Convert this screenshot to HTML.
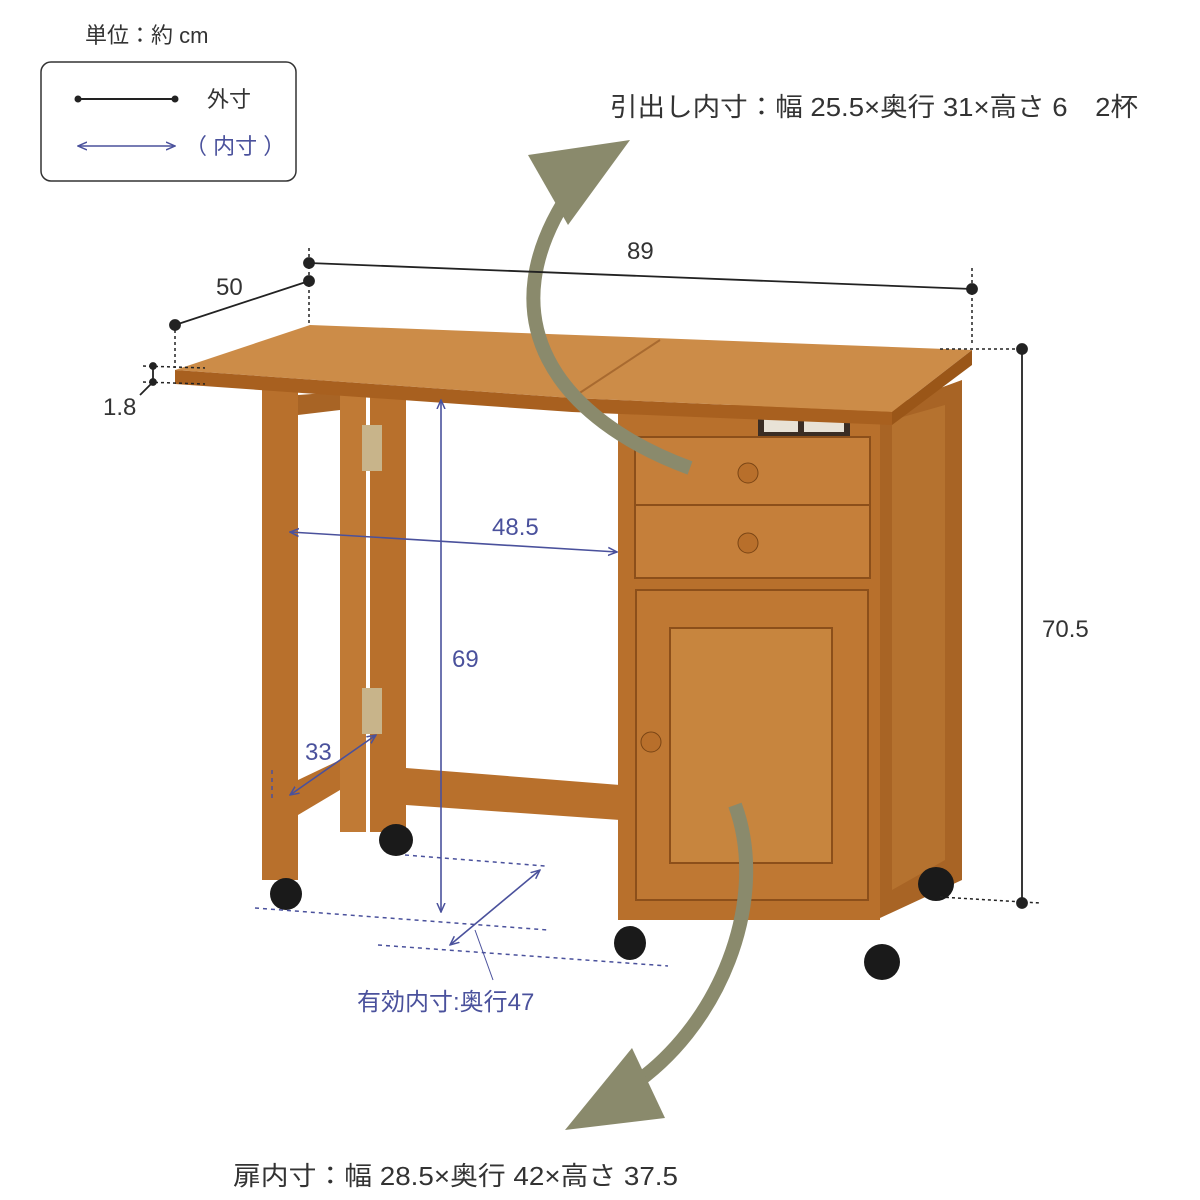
<!DOCTYPE html>
<html><head><meta charset="utf-8"><style>
html,body{margin:0;padding:0;background:#fff;width:1200px;height:1200px;overflow:hidden}
svg{display:block}
text{font-family:"Liberation Sans","Noto Sans CJK JP",sans-serif}
</style></head><body>
<svg width="1200" height="1200" viewBox="0 0 1200 1200" xmlns="http://www.w3.org/2000/svg">
<defs>
<marker id="ba" markerWidth="10" markerHeight="10" refX="9" refY="5" orient="auto-start-reverse" markerUnits="userSpaceOnUse"><path d="M0,1 L9,5 L0,9" fill="none" stroke="#4a519c" stroke-width="1.5"/></marker>
</defs>
<text x="85" y="43" font-size="22" fill="#333">単位：約 cm</text>
<rect x="41" y="62" width="255" height="119" rx="10" fill="#fff" stroke="#333" stroke-width="1.5"/>
<line x1="78" y1="99" x2="175" y2="99" stroke="#222" stroke-width="2"/>
<circle cx="78" cy="99" r="3.5" fill="#222"/><circle cx="175" cy="99" r="3.5" fill="#222"/>
<text x="207" y="107" font-size="22" fill="#333">外寸</text>
<line x1="78" y1="146" x2="175" y2="146" stroke="#4a519c" stroke-width="1.5" marker-start="url(#ba)" marker-end="url(#ba)"/>
<text x="185" y="154" font-size="22" fill="#4a519c">（ 内寸 ）</text>
<text x="610" y="116" font-size="26" fill="#333" textLength="528" lengthAdjust="spacingAndGlyphs">引出し内寸：幅 25.5×奥行 31×高さ 6　2杯</text>
<text x="233" y="1185" font-size="26" fill="#333" textLength="445" lengthAdjust="spacingAndGlyphs">扉内寸：幅 28.5×奥行 42×高さ 37.5</text>

<g>
<rect x="262" y="385" width="36" height="495" fill="#b8702c"/>
<rect x="340" y="392" width="26" height="440" fill="#c07a35"/>
<rect x="370" y="392" width="36" height="440" fill="#b8702c"/>
<polygon points="298,780 340,760 340,790 298,815" fill="#b8702c"/>
<polygon points="298,395 340,392 340,410 298,415" fill="#a86425"/>
<polygon points="406,768 620,785 620,820 406,805" fill="#b8702c"/>
<rect x="362" y="425" width="20" height="46" fill="#c8b48a"/>
<rect x="362" y="688" width="20" height="46" fill="#c8b48a"/>
<rect x="618" y="405" width="262" height="515" fill="#b8702c"/>
<polygon points="880,410 962,380 962,880 880,918" fill="#a86425"/>
<polygon points="892,420 945,405 945,860 892,890" fill="#b5722f"/>
<rect x="635" y="437" width="235" height="70" fill="#c57f3a" stroke="#8c4f1a" stroke-width="2"/>
<rect x="635" y="505" width="235" height="73" fill="#c57f3a" stroke="#8c4f1a" stroke-width="2"/>
<rect x="636" y="590" width="232" height="310" fill="#bf7833" stroke="#8c4f1a" stroke-width="2"/>
<rect x="670" y="628" width="162" height="235" fill="#c7853e" stroke="#8c4f1a" stroke-width="2"/>
<circle cx="748" cy="473" r="10" fill="#b86f2b" stroke="#7a4515"/>
<circle cx="748" cy="543" r="10" fill="#b86f2b" stroke="#7a4515"/>
<circle cx="651" cy="742" r="10" fill="#b86f2b" stroke="#7a4515"/>
<rect x="758" y="414" width="92" height="22" fill="#3a2d24"/>
<rect x="764" y="418" width="34" height="14" fill="#e8e2d6"/><rect x="804" y="418" width="40" height="14" fill="#e8e2d6"/>
<polygon points="175,370 310,325 972,350 892,412 572,398" fill="#cc8c48"/>
<polygon points="175,370 572,398 892,412 892,425 572,412 175,384" fill="#a8601f"/>
<polygon points="892,412 972,350 972,365 892,425" fill="#9a5618"/>
<line x1="572" y1="398" x2="660" y2="340" stroke="#a86a30" stroke-width="2"/>
<g fill="#1a1a1a">
<ellipse cx="286" cy="894" rx="16" ry="16"/>
<ellipse cx="396" cy="840" rx="17" ry="16"/>
<ellipse cx="630" cy="943" rx="16" ry="17"/>
<ellipse cx="882" cy="962" rx="18" ry="18"/>
<ellipse cx="936" cy="884" rx="18" ry="17"/>
</g>
</g>

<g fill="none" stroke="#8a8a6c" stroke-width="14">
<path d="M690,468 C560,420 480,320 575,185"/>
<path d="M735,805 C770,900 720,1030 625,1090"/>
</g>
<polygon points="528,155 630,140 568,225" fill="#8a8a6c"/>
<polygon points="565,1130 665,1118 632,1048" fill="#8a8a6c"/>

<g stroke="#222" stroke-width="1.8" fill="#222">
<line x1="309" y1="263" x2="972" y2="289"/>
<circle cx="309" cy="263" r="5"/><circle cx="972" cy="289" r="5"/>
<line x1="175" y1="325" x2="309" y2="281"/>
<circle cx="175" cy="325" r="5"/><circle cx="309" cy="281" r="5"/>
<line x1="1022" y1="349" x2="1022" y2="903"/>
<circle cx="1022" cy="349" r="5"/><circle cx="1022" cy="903" r="5"/>
<line x1="153" y1="366" x2="153" y2="382"/>
<circle cx="153" cy="366" r="3"/><circle cx="153" cy="382" r="3"/>
<line x1="153" y1="382" x2="140" y2="395"/>
</g>
<g stroke="#222" stroke-width="1.5" stroke-dasharray="3,3" fill="none">
<line x1="309" y1="248" x2="309" y2="325"/>
<line x1="972" y1="268" x2="972" y2="345"/>
<line x1="175" y1="330" x2="175" y2="368"/>
<line x1="940" y1="349" x2="1022" y2="349"/>
<line x1="940" y1="897" x2="1040" y2="903"/>
<line x1="143" y1="366" x2="205" y2="368"/>
<line x1="143" y1="382" x2="205" y2="384"/>
</g>
<text x="627" y="259" font-size="24" fill="#333">89</text>
<text x="216" y="295" font-size="24" fill="#333">50</text>
<text x="1042" y="637" font-size="24" fill="#333">70.5</text>
<text x="103" y="415" font-size="24" fill="#333">1.8</text>

<g stroke="#4a519c" stroke-width="1.6" fill="none">
<line x1="290" y1="532" x2="617" y2="552" marker-start="url(#ba)" marker-end="url(#ba)"/>
<line x1="441" y1="400" x2="441" y2="912" marker-start="url(#ba)" marker-end="url(#ba)"/>
<line x1="290" y1="795" x2="376" y2="735" marker-start="url(#ba)" marker-end="url(#ba)"/>
<line x1="450" y1="945" x2="540" y2="870" marker-start="url(#ba)" marker-end="url(#ba)"/>
<line x1="475" y1="930" x2="493" y2="980" stroke-width="1"/>
</g>
<g stroke="#4a519c" stroke-width="1.5" stroke-dasharray="4,4">
<line x1="255" y1="908" x2="548" y2="930"/>
<line x1="378" y1="945" x2="668" y2="966"/>
<line x1="405" y1="855" x2="545" y2="866"/>
<line x1="272" y1="770" x2="272" y2="800"/>
</g>
<text x="492" y="535" font-size="24" fill="#4a519c">48.5</text>
<text x="452" y="667" font-size="24" fill="#4a519c">69</text>
<text x="305" y="760" font-size="24" fill="#4a519c">33</text>
<text x="357" y="1010" font-size="24" fill="#4a519c">有効内寸:奥行47</text>
</svg>
</body></html>
